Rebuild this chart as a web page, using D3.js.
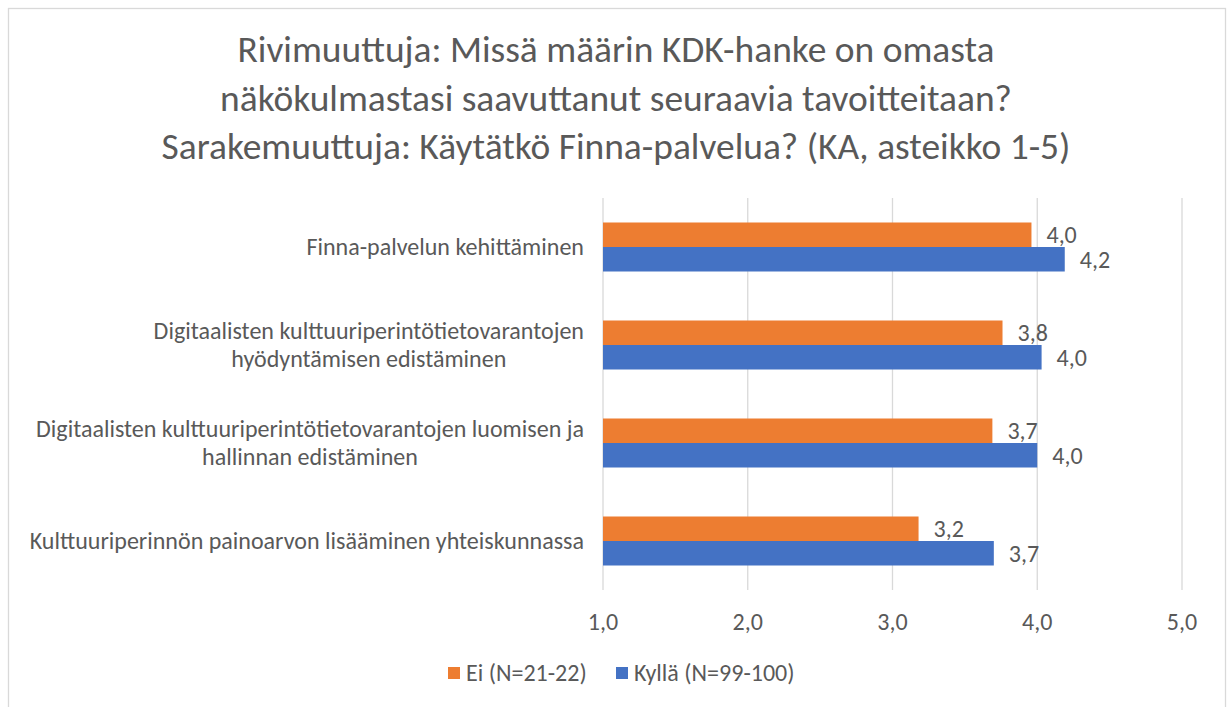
<!DOCTYPE html>
<html>
<head>
<meta charset="utf-8">
<script src="https://cdn.jsdelivr.net/npm/d3@7"></script>
<style>
  html, body { margin: 0; padding: 0; background: #fff; }
  svg { display: block; }
  text { font-family: Carlito, Calibri, Lato, "Open Sans", sans-serif; fill: #595959; }
</style>
</head>
<body>
<svg id="chart" width="1229" height="707"></svg>
<script>
const titleLines = [
  "Rivimuuttuja: Missä määrin KDK-hanke on omasta",
  "näkökulmastasi saavuttanut seuraavia tavoitteitaan?",
  "Sarakemuuttuja: Käytätkö Finna-palvelua? (KA, asteikko 1-5)"
];
const categories = [
  ["Finna-palvelun kehittäminen"],
  ["Digitaalisten kulttuuriperintötietovarantojen", "hyödyntämisen edistäminen"],
  ["Digitaalisten kulttuuriperintötietovarantojen luomisen ja", "hallinnan edistäminen"],
  ["Kulttuuriperinnön painoarvon lisääminen yhteiskunnassa"]
];
const seriesNames = ["Ei (N=21-22)", "Kyllä (N=99-100)"];
const eiValues = [3.96, 3.76, 3.69, 3.18];
const kyllaValues = [4.19, 4.03, 4.00, 3.70];
const xTicks = [1, 2, 3, 4, 5];
const colors = ["#ED7D31", "#4472C4"];

const svg = d3.select("#chart");

// outer border
svg.append("rect").attr("x", 8.5).attr("y", 8.5).attr("width", 1217).attr("height", 720)
  .attr("fill", "#fff").attr("stroke", "#D9D9D9").attr("stroke-width", 1.3);

// helper: find font size so that text width matches target
function fitSize(str, target) {
  const t = svg.append("text").style("font-size", "100px").text(str);
  const w = t.node().getComputedTextLength();
  t.remove();
  return 100 * target / w;
}

const margin = { left: 603, right: 1182, top: 198, bottom: 590 };
const x = d3.scaleLinear().domain([1, 5]).range([margin.left, margin.right]);
const y = d3.scaleBand().domain(d3.range(categories.length)).range([margin.top, margin.bottom]).paddingInner(0).paddingOuter(0);
const inner = d3.scaleBand().domain([0, 1]).range([0, y.bandwidth()]).paddingOuter(1).paddingInner(0);

const catSize = fitSize("Digitaalisten kulttuuriperintötietovarantojen luomisen ja", 548);

// gridlines
svg.append("g").selectAll("line").data(xTicks).join("line")
  .attr("x1", d => x(d)).attr("x2", d => x(d))
  .attr("y1", margin.top).attr("y2", margin.bottom)
  .attr("stroke", "#D9D9D9").attr("stroke-width", 1.3);

// title
const titleSize = fitSize(titleLines[2], 909);
svg.append("g").selectAll("text").data(titleLines).join("text")
  .attr("x", 616).attr("y", (d, i) => 62 + i * 48.5)
  .attr("text-anchor", "middle")
  .style("font-size", titleSize + "px")
  .text(d => d);

// bars and value labels
const series = [eiValues, kyllaValues];
series.forEach((vals, si) => {
  svg.append("g").selectAll("rect").data(vals).join("rect")
    .attr("x", x(1))
    .attr("y", (d, i) => y(i) + inner(si))
    .attr("width", d => x(d) - x(1))
    .attr("height", inner.bandwidth())
    .attr("fill", colors[si]);
  svg.append("g").selectAll("text").data(vals).join("text")
    .attr("x", d => x(d) + 15)
    .attr("y", (d, i) => y(i) + inner(si) + inner.bandwidth() / 2)
    .attr("dy", "0.35em")
    .style("font-size", catSize + "px")
    .text(d => d.toFixed(1).replace(".", ","));
});

// category labels
const lineH = 28;
categories.forEach((lines, i) => {
  const cy = y(i) + y.bandwidth() / 2;
  const g = svg.append("g");
  const widths = lines.map(l => 100 * catSize / fitSize(l, 100));
  const blockW = d3.max(widths);
  const cx = 584 - blockW / 2;
  g.selectAll("text").data(lines).join("text")
    .attr("x", cx)
    .attr("y", (d, j) => cy + (j - (lines.length - 1) / 2) * lineH)
    .attr("dy", "0.35em")
    .attr("text-anchor", "middle")
    .style("font-size", catSize + "px")
    .text(d => d);
});

// x tick labels
svg.append("g").selectAll("text").data(xTicks).join("text")
  .attr("x", d => x(d)).attr("y", 622).attr("dy", "0.35em")
  .attr("text-anchor", "middle")
  .style("font-size", catSize + "px")
  .text(d => d.toFixed(1).replace(".", ","));

// legend
const legendX = [448, 616];
seriesNames.forEach((name, i) => {
  svg.append("rect").attr("x", legendX[i]).attr("y", 667).attr("width", 12).attr("height", 12).attr("fill", colors[i]);
  svg.append("text").attr("x", legendX[i] + 18).attr("y", 673).attr("dy", "0.35em")
    .style("font-size", catSize + "px").text(name);
});
</script>
</body>
</html>
